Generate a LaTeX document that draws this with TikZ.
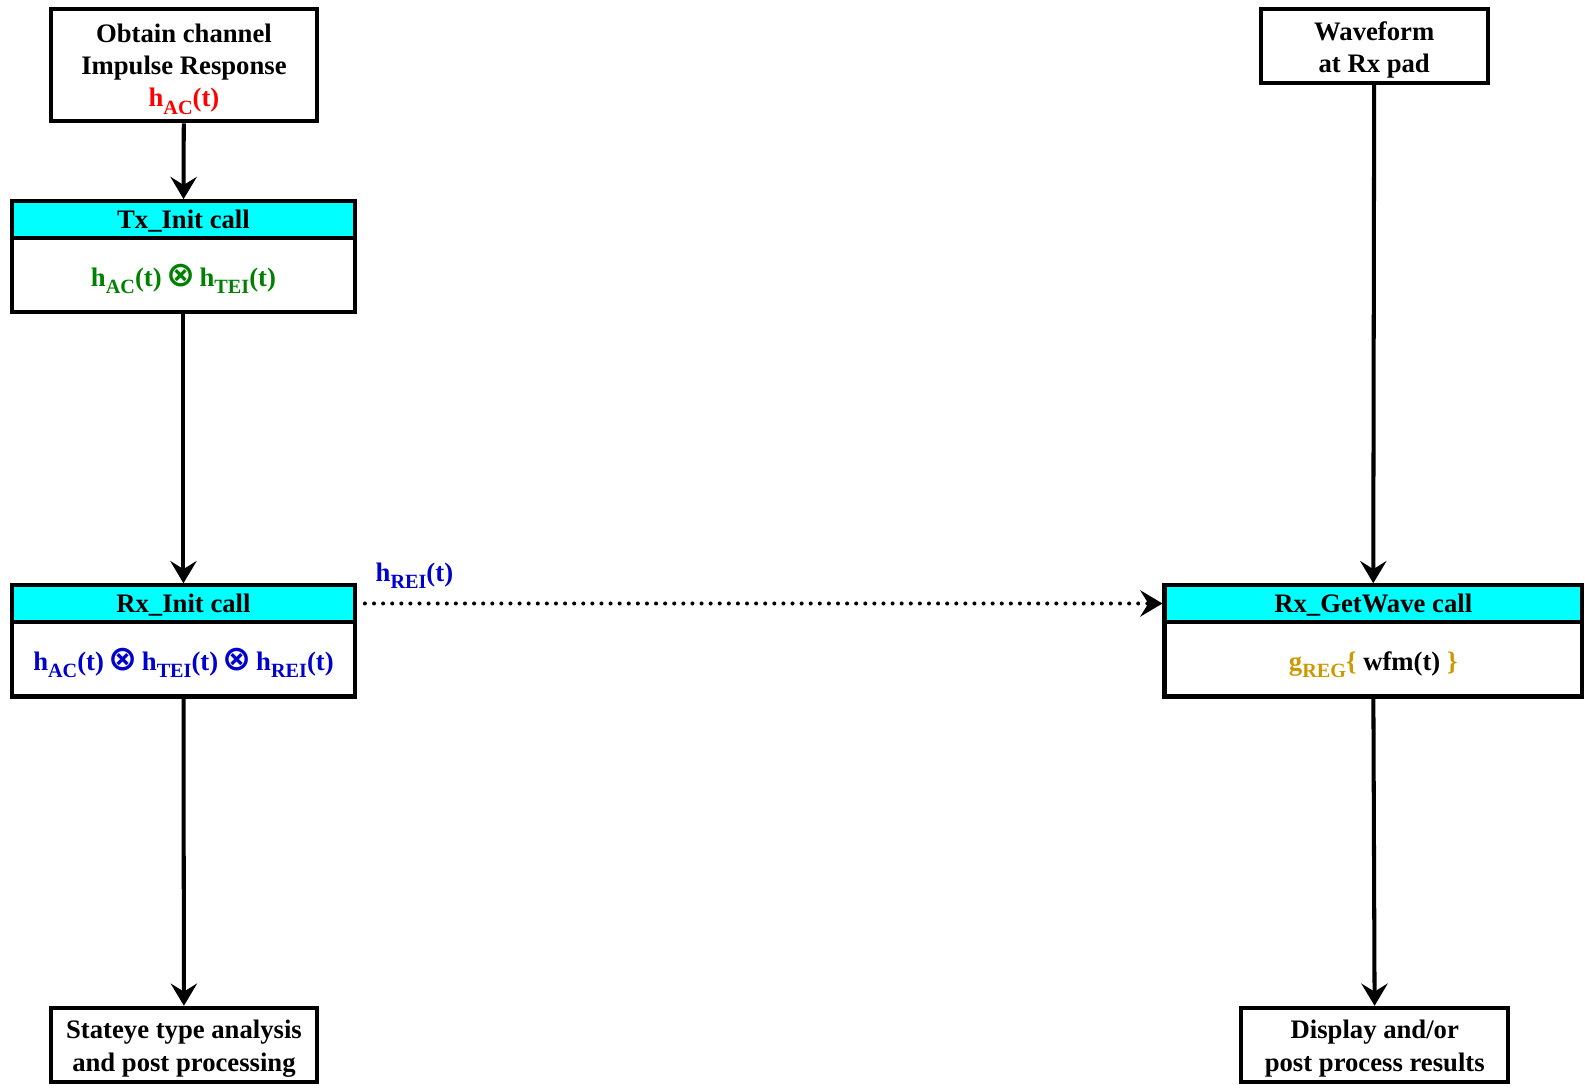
\documentclass[tikz,border=0pt]{standalone}
\usepackage{fontspec}
\setmainfont{Liberation Serif}
\newfontfamily\symfont{DejaVu Sans}
\usetikzlibrary{arrows.meta}
\definecolor{hdrcyan}{RGB}{0,255,255}
\definecolor{txgreen}{RGB}{0,128,0}
\definecolor{rxblue}{RGB}{0,0,204}
\definecolor{reggold}{RGB}{204,153,0}
\newcommand{\lowsub}[1]{\raisebox{-0.6ex}{\fontsize{10}{10}\selectfont #1}}
\newcommand{\conv}{\,{\symfont\bfseries\scalebox{1.3}{⊗}}\,}
\newcommand{\topgap}{\rule{0pt}{13pt}}
\newcommand{\rowgap}{\rule{0pt}{15pt}}
\tikzset{
  box/.style={draw, line width=2pt, rectangle, inner sep=0pt, align=center,
    font=\fontsize{13.2}{16}\selectfont\bfseries},
  hdr/.style={box, fill=hdrcyan, minimum height=18pt},
  flow/.style={-{Stealth[length=11pt,width=13pt,inset=4pt]}, line width=2pt},
}
\begin{document}
\begin{tikzpicture}[x=0.5pt,y=-0.5pt]

    \useasboundingbox (0,0) rectangle (1568,1077.3);

    \begin{scope}[]
    \node[box, minimum width=132pt, minimum height=55.5pt] (obtain) at (182,64.5)
      {\topgap Obtain channel\\Impulse Response\\\textcolor{red}{h\lowsub{AC}(t)}};
    \node[hdr, minimum width=169.5pt] (txhead) at (181.5,217) {\rule{0pt}{11pt}Tx\_Init call};
    \node[box, minimum width=169.5pt, minimum height=37pt] (txbody) at (181.5,272)
      {\rowgap\textcolor{txgreen}{h\lowsub{AC}(t)\conv h\lowsub{TEI}(t)}};
    \node[hdr, minimum width=169.5pt] (rxhead) at (181.5,597) {\rule{0pt}{11pt}Rx\_Init call};
    \node[box, minimum width=169.5pt, minimum height=37pt] (rxbody) at (181.5,652)
      {\rowgap\textcolor{rxblue}{h\lowsub{AC}(t)\conv h\lowsub{TEI}(t)\conv h\lowsub{REI}(t)}};
    \node[box, minimum width=132pt, minimum height=36.5pt] (stateye) at (182,1033.5)
      {\topgap Stateye type analysis\\and post processing};
    \draw[flow] (obtain) -- (txhead);
    \draw[flow] (txbody) -- (rxhead);
    \draw[flow] (rxbody) -- (stateye);
    \end{scope}

    \begin{scope}[]
    \node[box, minimum width=112.5pt, minimum height=36.5pt] (wave) at (1359.5,45.5)
      {\topgap Waveform\\at Rx pad};
    \node[hdr, minimum width=206.5pt] (gwhead) at (1358.5,597) {\rule{0pt}{11pt}Rx\_GetWave call};
    \node[box, minimum width=206.5pt, minimum height=37pt] (gwbody) at (1358.5,652)
      {\rowgap\textcolor{reggold}{g\lowsub{REG}\{} wfm(t) \textcolor{reggold}{\}}};
    \node[box, minimum width=132pt, minimum height=36.5pt] (display) at (1360,1033.5)
      {\topgap Display and/or\\post process results};
    \draw[flow] (wave) -- (gwhead);
    \draw[flow] (gwbody) -- (display);
    \end{scope}

    \draw[flow, dash pattern=on 0pt off 4.5pt, line cap=round,
      shorten <=4pt] (rxhead) -- (gwhead)
      node[pos=0, anchor=south west, xshift=5pt, yshift=3pt, text=rxblue,
        font=\fontsize{13.2}{16}\selectfont\bfseries] (reilabel) {h\lowsub{REI}(t)};
\end{tikzpicture}
\end{document}
